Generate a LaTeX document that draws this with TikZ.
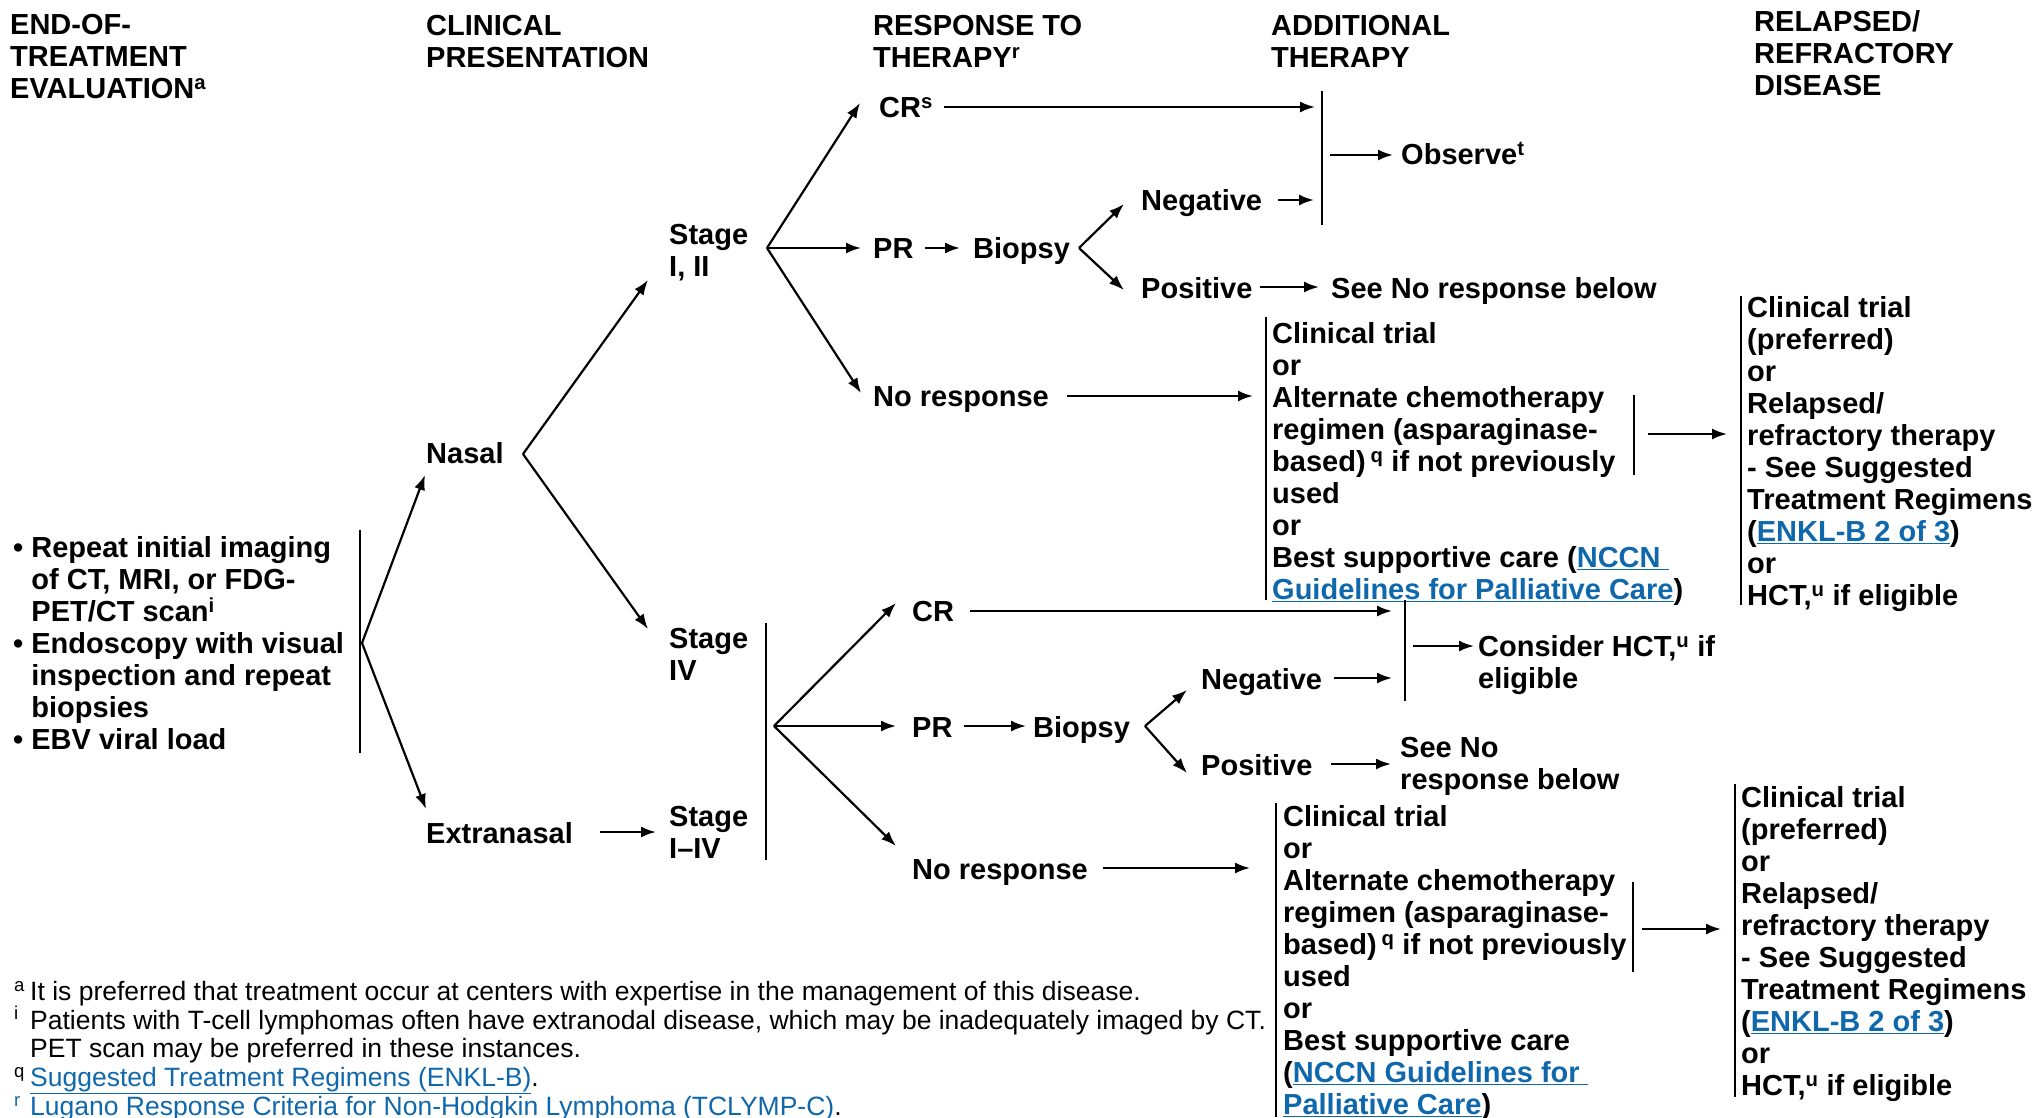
\documentclass[tikz,border=0pt]{standalone}
\usepackage{fontspec}
\setmainfont{Liberation Sans}
\usetikzlibrary{arrows.meta}
\definecolor{linkblue}{RGB}{16,104,172}
\newcommand\fl{\rule{0pt}{24pt}}
\newcommand\ffl{\rule{0pt}{20pt}}
\newcommand\lk[1]{\textcolor{linkblue}{\underline{#1}}}
\newcommand\fnm[1]{\makebox[16pt][l]{\textsuperscript{#1}}}
\begin{document}
\begin{tikzpicture}[x=1pt,y=-1pt,
  txt/.style={inner sep=0pt, anchor=base west, font=\bfseries\fontsize{29}{32}\selectfont},
  mtxt/.style={inner sep=0pt, anchor=north west, align=left, font=\bfseries\fontsize{29}{32}\selectfont},
  fnote/.style={inner sep=0pt, anchor=north west, align=left, font=\fontsize{26.5}{28.8}\selectfont},
  arr/.style={-{Latex[length=15pt,width=11pt]}, line width=2.2pt},
  bar/.style={line width=1.8pt}]
\useasboundingbox (0,0) rectangle (2036,1118);

% headers
\node[mtxt] (h1) at (10,10) {\fl END-OF-\\TREATMENT\\EVALUATION\textsuperscript{a}};
\node[mtxt] (h2) at (426,11) {\fl CLINICAL\\PRESENTATION};
\node[mtxt] (h3) at (873,11) {\fl RESPONSE TO\\THERAPY\textsuperscript{r}};
\node[mtxt] (h4) at (1271,11) {\fl ADDITIONAL\\THERAPY};
\node[mtxt] (h5) at (1754,7) {\fl RELAPSED/\\REFRACTORY\\DISEASE};

% evaluation
\node[mtxt] (eval) at (13,533) {\fl • Repeat initial imaging\\\hphantom{•\ }of CT, MRI, or FDG-\\\hphantom{•\ }PET/CT scan\textsuperscript{i}\\• Endoscopy with visual\\\hphantom{•\ }inspection and repeat\\\hphantom{•\ }biopsies\\• EBV viral load};
\coordinate (eb1) at (360,530); \coordinate (eb2) at (360,753);
\draw[bar] (eb1) -- (eb2);

% presentation
\node[txt] (nasal) at (426,463) {Nasal};
\node[txt] (extra) at (426,843) {Extranasal};
\coordinate (fe) at (362,643);
\coordinate (nasT) at (425,475);
\coordinate (extT) at (426,809);
\draw[arr] (fe) -- (nasT);
\draw[arr] (fe) -- (extT);

% stages
\node[mtxt] (s12) at (669,220) {\fl Stage\\I, II};
\node[mtxt] (s4) at (669,624) {\fl Stage\\IV};
\node[mtxt] (s14) at (669,802) {\fl Stage\\I–IV};
\coordinate (fn) at (523,454);
\coordinate (s12T) at (648,280);
\coordinate (s4T) at (648,629);
\draw[arr] (fn) -- (s12T);
\draw[arr] (fn) -- (s4T);
\coordinate (exA) at (600,832); \coordinate (exB) at (656,832);
\draw[arr] (exA) -- (exB);
\coordinate (sb1) at (766,623); \coordinate (sb2) at (766,860);
\draw[bar] (sb1) -- (sb2);

% ---------- upper branch ----------
\node[txt] (cr1) at (879,118) {CR\textsuperscript{s}};
\node[txt] (pr1) at (873,258) {PR};
\node[txt] (bio1) at (973,258) {Biopsy};
\node[txt] (nr1) at (873,406) {No response};
\node[txt] (neg1) at (1141,211) {Negative};
\node[txt] (pos1) at (1141,298) {Positive};
\node[txt] (see1) at (1331,298) {See No response below};
\node[txt] (obs) at (1401,165) {Observe\textsuperscript{t}};

\coordinate (f12) at (767,248);
\coordinate (crT) at (860,103);
\coordinate (prT) at (861,248);
\coordinate (nrT) at (861,393);
\draw[arr] (f12) -- (crT);
\draw[arr] (f12) -- (prT);
\draw[arr] (f12) -- (nrT);
\coordinate (crA) at (944,107); \coordinate (crB) at (1315,107);
\draw[arr] (crA) -- (crB);
\coordinate (b1a) at (1322,91); \coordinate (b1b) at (1322,225);
\draw[bar] (b1a) -- (b1b);
\coordinate (obA) at (1330,155); \coordinate (obB) at (1393,155);
\draw[arr] (obA) -- (obB);
\coordinate (pbA) at (925,248); \coordinate (pbB) at (960,248);
\draw[arr] (pbA) -- (pbB);
\coordinate (fb1) at (1079,248);
\coordinate (negT) at (1124,204);
\coordinate (posT) at (1124,290);
\draw[arr] (fb1) -- (negT);
\draw[arr] (fb1) -- (posT);
\coordinate (ngA) at (1278,200); \coordinate (ngB) at (1314,200);
\draw[arr] (ngA) -- (ngB);
\coordinate (psA) at (1260,287); \coordinate (psB) at (1319,287);
\draw[arr] (psA) -- (psB);
\coordinate (nrA) at (1067,396); \coordinate (nrB) at (1253,396);
\draw[arr] (nrA) -- (nrB);

\node[mtxt] (add1) at (1272,319) {\fl Clinical trial\\or\\Alternate chemotherapy\\regimen (asparaginase-\\based)\,\textsuperscript{q} if not previously\\used\\or\\Best supportive care (\lk{NCCN\ }\\\lk{Guidelines for Palliative Care})};
\coordinate (ab1a) at (1266,317); \coordinate (ab1b) at (1266,600);
\draw[bar] (ab1a) -- (ab1b);
\coordinate (ib1a) at (1634,395); \coordinate (ib1b) at (1634,475);
\draw[bar] (ib1a) -- (ib1b);
\coordinate (irA) at (1648,434); \coordinate (irB) at (1727,434);
\draw[arr] (irA) -- (irB);
\node[mtxt] (rel1) at (1747,293) {\fl Clinical trial\\(preferred)\\or\\Relapsed/\\refractory therapy\\- See Suggested\\Treatment Regimens\\(\lk{ENKL-B 2 of 3})\\or\\HCT,\textsuperscript{u} if eligible};
\coordinate (rb1a) at (1741,296); \coordinate (rb1b) at (1741,605);
\draw[bar] (rb1a) -- (rb1b);

% ---------- lower branch ----------
\node[txt] (cr2) at (912,621) {CR};
\node[txt] (pr2) at (912,737) {PR};
\node[txt] (bio2) at (1033,737) {Biopsy};
\node[txt] (nr2) at (912,879) {No response};
\node[txt] (neg2) at (1201,689) {Negative};
\node[txt] (pos2) at (1201,775) {Positive};
\node[mtxt] (see2) at (1400,733) {\fl See No\\response below};
\node[mtxt] (cons) at (1478,632) {\fl Consider HCT,\textsuperscript{u} if\\eligible};

\coordinate (f4) at (774,726);
\coordinate (cr2T) at (896,603);
\coordinate (pr2T) at (896,726);
\coordinate (nr2T) at (896,846);
\draw[arr] (f4) -- (cr2T);
\draw[arr] (f4) -- (pr2T);
\draw[arr] (f4) -- (nr2T);
\coordinate (cr2A) at (970,611); \coordinate (cr2B) at (1392,611);
\draw[arr] (cr2A) -- (cr2B);
\coordinate (b2a) at (1405,600); \coordinate (b2b) at (1405,701);
\draw[bar] (b2a) -- (b2b);
\coordinate (coA) at (1413,646); \coordinate (coB) at (1474,646);
\draw[arr] (coA) -- (coB);
\coordinate (pb2A) at (964,726); \coordinate (pb2B) at (1026,726);
\draw[arr] (pb2A) -- (pb2B);
\coordinate (fb2) at (1145,726);
\coordinate (neg2T) at (1187,690);
\coordinate (pos2T) at (1187,773);
\draw[arr] (fb2) -- (neg2T);
\draw[arr] (fb2) -- (pos2T);
\coordinate (ng2A) at (1334,678); \coordinate (ng2B) at (1392,678);
\draw[arr] (ng2A) -- (ng2B);
\coordinate (ps2A) at (1331,764); \coordinate (ps2B) at (1391,764);
\draw[arr] (ps2A) -- (ps2B);
\coordinate (nr2A) at (1103,868); \coordinate (nr2B) at (1250,868);
\draw[arr] (nr2A) -- (nr2B);

\node[mtxt] (add2) at (1283,802) {\fl Clinical trial\\or\\Alternate chemotherapy\\regimen (asparaginase-\\based)\,\textsuperscript{q} if not previously\\used\\or\\Best supportive care\\(\lk{NCCN Guidelines for\ }\\\lk{Palliative Care})};
\coordinate (ab2a) at (1276,803); \coordinate (ab2b) at (1276,1117);
\draw[bar] (ab2a) -- (ab2b);
\coordinate (ib2a) at (1633,882); \coordinate (ib2b) at (1633,972);
\draw[bar] (ib2a) -- (ib2b);
\coordinate (ir2A) at (1642,929); \coordinate (ir2B) at (1721,929);
\draw[arr] (ir2A) -- (ir2B);
\node[mtxt] (rel2) at (1741,783) {\fl Clinical trial\\(preferred)\\or\\Relapsed/\\refractory therapy\\- See Suggested\\Treatment Regimens\\(\lk{ENKL-B 2 of 3})\\or\\HCT,\textsuperscript{u} if eligible};
\coordinate (rb2a) at (1735,784); \coordinate (rb2b) at (1735,1097);
\draw[bar] (rb2a) -- (rb2b);

% footnotes
\node[fnote] (foot) at (14,980) {\ffl\fnm{a}It is preferred that treatment occur at centers with expertise in the management of this disease.\\
\fnm{i}Patients with T-cell lymphomas often have extranodal disease, which may be inadequately imaged by CT.\\
\hspace*{16pt}PET scan may be preferred in these instances.\\
\fnm{q}\lk{Suggested Treatment Regimens (ENKL-B)}.\\
\textcolor{linkblue}{\fnm{r}}\lk{Lugano Response Criteria for Non-Hodgkin Lymphoma (TCLYMP-C)}.};
\end{tikzpicture}
\end{document}
